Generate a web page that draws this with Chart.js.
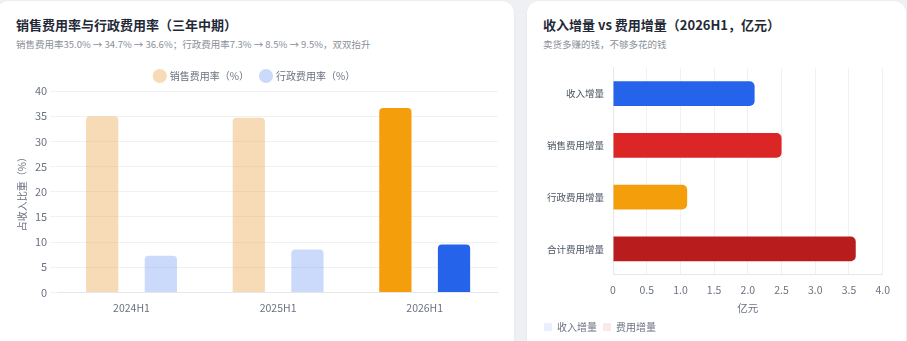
<!DOCTYPE html>
<html><head><meta charset="utf-8">
<script src="https://cdn.jsdelivr.net/npm/chart.js@4.4.1/dist/chart.umd.min.js"></script>
<style>
html,body{margin:0;padding:0;background:#eef0f3;width:907px;height:341px;overflow:hidden;font-family:"Noto Sans CJK SC","Noto Sans",sans-serif;}
.card{position:absolute;background:#fff;border-radius:12px;box-shadow:0 1px 3px rgba(0,0,0,0.06);}
#c1{left:-4px;top:1px;width:518px;height:400px;}
#c2{left:527px;top:1px;width:379px;height:400px;}
.t{position:absolute;font-size:13px;font-weight:700;color:#1f2937;white-space:nowrap;}
.s{position:absolute;font-size:9.5px;color:#8a8f98;white-space:nowrap;}
.w{position:absolute;}
</style></head><body>
<div class="card" id="c1">
  <div class="t" style="left:20px;top:14px;">销售费用率与行政费用率（三年中期）</div>
  <div class="s" style="left:20px;top:36px;">销售费用率35.0% → 34.7% → 36.6%；行政费用率7.3% → 8.5% → 9.5%，双双抬升</div>
  <div class="w" style="left:16px;top:58px;width:486px;height:264px;"><canvas id="a"></canvas></div>
</div>
<div class="card" id="c2">
  <div class="t" style="left:16px;top:14px;">收入增量 vs 费用增量（2026H1，亿元）</div>
  <div class="s" style="left:16px;top:36px;">卖货多赚的钱，不够多花的钱</div>
  <div class="w" style="left:11px;top:52px;width:361px;height:289px;"><canvas id="b"></canvas></div>
</div>
<script>
const periods = ['2024H1', '2025H1', '2026H1'];
const salesRate = [35.0, 34.7, 36.6];
const adminRate = [7.3, 8.5, 9.5];

const incCategories = ['收入增量', '销售费用增量', '行政费用增量', '合计费用增量'];
const revenueInc = [2.1, null, null, null];
const expenseInc = [null, 2.5, 1.1, 3.6];

const FONT = '"Noto Sans CJK SC","Noto Sans",sans-serif';
Chart.defaults.font.family = FONT;
Chart.defaults.color = '#6b7280';
Chart.defaults.animation = false;

new Chart(document.getElementById('a'), {
  type: 'bar',
  data: {
    labels: periods,
    datasets: [
      { label: '销售费用率（%）', data: salesRate,
        backgroundColor: ['rgba(235,170,80,0.42)', 'rgba(235,170,80,0.42)', '#f59e0b'],
        borderRadius: 4, borderSkipped: 'bottom', barPercentage: 0.55, categoryPercentage: 0.8 },
      { label: '行政费用率（%）', data: adminRate,
        backgroundColor: ['rgba(37,99,235,0.24)', 'rgba(37,99,235,0.24)', '#2563eb'],
        borderRadius: 4, borderSkipped: 'bottom', barPercentage: 0.55, categoryPercentage: 0.8 }
    ]
  },
  options: {
    responsive: true, maintainAspectRatio: false,
    plugins: {
      legend: { position: 'top', labels: { usePointStyle: true, pointStyle: 'circle', boxWidth: 12, boxHeight: 12, padding: 12, font: { size: 10 }, color: '#6b7280' } },
      tooltip: { enabled: false }
    },
    scales: {
      x: { grid: { display: false, drawTicks: false }, border: { color: '#e5e7eb' }, ticks: { padding: 9, font: { size: 10.5 }, color: '#6b7280' } },
      y: { min: 0, max: 40, ticks: { stepSize: 5, font: { size: 11 }, color: '#6b7280' },
           grid: { color: '#f0f1f3' }, border: { display: false },
           title: { display: true, text: '占收入比重（%）', font: { size: 10 }, color: '#6b7280' } }
    }
  }
});

new Chart(document.getElementById('b'), {
  type: 'bar',
  data: {
    labels: incCategories,
    datasets: [
      { label: '收入增量', data: revenueInc, backgroundColor: ['#2563eb', '#2563eb', '#2563eb', '#2563eb'],
        borderRadius: 5, borderSkipped: 'start', barPercentage: 0.6, categoryPercentage: 0.8 },
      { label: '费用增量', data: expenseInc, backgroundColor: ['#dc2626', '#dc2626', '#f59e0b', '#b91c1c'],
        borderRadius: 5, borderSkipped: 'start', barPercentage: 0.6, categoryPercentage: 0.8 }
    ]
  },
  options: {
    indexAxis: 'y',
    responsive: true, maintainAspectRatio: false,
    plugins: {
      legend: { position: 'bottom', align: 'start',
        labels: { boxWidth: 8, boxHeight: 8, padding: 6, font: { size: 10 }, color: '#6b7280',
          generateLabels: function(chart) {
            const fills = ['rgba(37,99,235,0.1)', 'rgba(220,38,38,0.1)'];
            return chart.data.datasets.map(function(ds, i) {
              return { text: ds.label, fillStyle: fills[i], strokeStyle: 'rgba(0,0,0,0)', lineWidth: 0, datasetIndex: i, hidden: false, fontColor: '#6b7280' };
            });
          } } },
      tooltip: { enabled: false }
    },
    scales: {
      x: { min: 0, max: 4, ticks: { stepSize: 0.5, padding: 9, font: { size: 10.5 }, color: '#6b7280',
             callback: function(v) { return v === 0 ? '0' : Number(v).toFixed(1); } },
           grid: { color: '#f0f1f3', drawTicks: false }, border: { color: '#e5e7eb' },
           title: { display: true, text: '亿元', font: { size: 10.5 }, color: '#6b7280', padding: { top: -4, bottom: 2 } } },
      y: { stacked: true, grid: { display: false, drawTicks: false }, border: { color: '#e5e7eb' }, ticks: { padding: 9, font: { size: 9.5 }, color: '#4b5563' } }
    }
  }
});
</script>
</body></html>
